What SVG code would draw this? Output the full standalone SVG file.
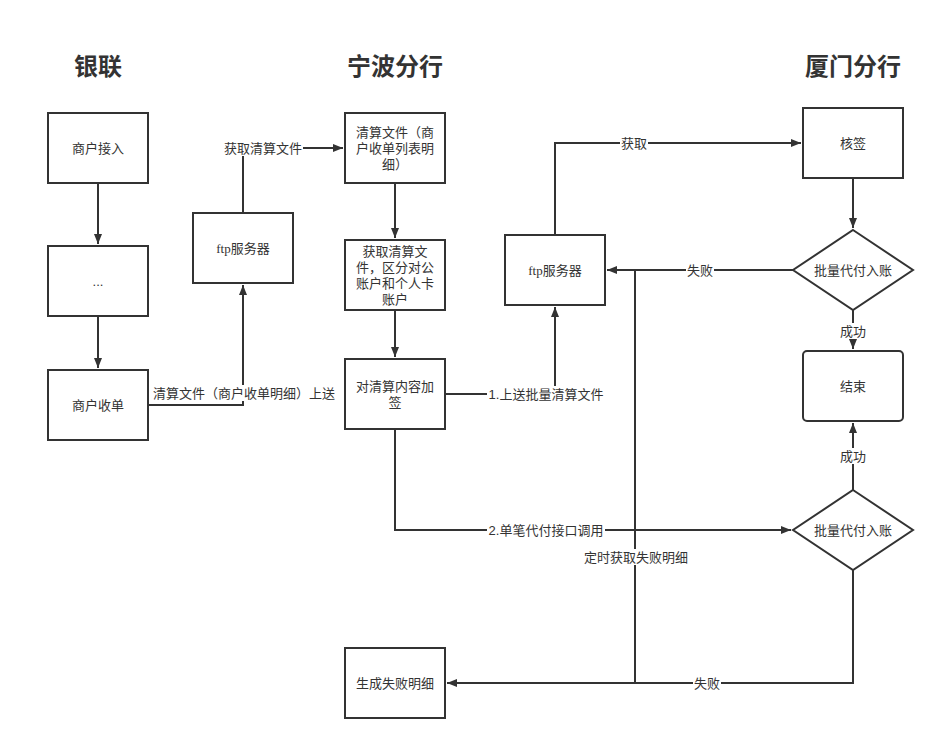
<svg xmlns="http://www.w3.org/2000/svg" width="945" height="750" viewBox="0 0 945 750">
<defs>
<marker id="arr" viewBox="0 0 10 8" refX="10" refY="4" markerWidth="10" markerHeight="8" markerUnits="userSpaceOnUse" orient="auto">
<path d="M0,0 L10,4 L0,8 Z" fill="#333"/>
</marker>
</defs>
<style>
.box{fill:#fff;stroke:#333;stroke-width:2}
.t{font-family:"Liberation Sans","Noto Sans CJK SC",sans-serif;font-size:13px;fill:#333;text-anchor:middle;dominant-baseline:central}
.serif{font-family:"Liberation Serif","Noto Sans CJK SC",serif}
.title{font-family:"Liberation Sans","Noto Sans CJK SC",sans-serif;font-size:24px;font-weight:bold;fill:#333;text-anchor:middle;dominant-baseline:central}
.ln{fill:none;stroke:#333;stroke-width:2}
.bg{fill:#fff}
</style>
<rect width="945" height="750" fill="#fff"/>

<g id="titles">
<text class="title" x="98" y="66">银联</text>
<text class="title" x="395" y="66">宁波分行</text>
<text class="title" x="853" y="66">厦门分行</text>
</g>

<g id="connectors">
<path class="ln" d="M98,183 V244" marker-end="url(#arr)"/>
<path class="ln" d="M98,316 V368" marker-end="url(#arr)"/>
<path class="ln" d="M148,405 H243 V285" marker-end="url(#arr)"/>
<path class="ln" d="M243,213 V148 H343" marker-end="url(#arr)"/>
<path class="ln" d="M395,183 V238" marker-end="url(#arr)"/>
<path class="ln" d="M395,310 V357" marker-end="url(#arr)"/>
<path class="ln" d="M445,394 H555 V307" marker-end="url(#arr)"/>
<path class="ln" d="M395,429 V530 H791" marker-end="url(#arr)"/>
<path class="ln" d="M555,235 V143 H801" marker-end="url(#arr)"/>
<path class="ln" d="M853,178 V228" marker-end="url(#arr)"/>
<path class="ln" d="M793,270 H607" marker-end="url(#arr)"/>
<path class="ln" d="M853,310 V349" marker-end="url(#arr)"/>
<path class="ln" d="M853,490 V423" marker-end="url(#arr)"/>
<path class="ln" d="M853,570 V683 H447" marker-end="url(#arr)"/>
<path class="ln" d="M635,683 V270"/>
<rect class="bg" x="223" y="140" width="80" height="16"/>
<text class="t" x="263" y="148">获取清算文件</text>
<rect class="bg" x="152" y="385" width="184" height="16"/>
<text class="t" x="244" y="393">清算文件（商户收单明细）上送</text>
<rect class="bg" x="487" y="386" width="118" height="16"/>
<text class="t" x="546" y="394">1.上送批量清算文件</text>
<rect class="bg" x="487" y="522" width="118" height="16"/>
<text class="t" x="546" y="530">2.单笔代付接口调用</text>
<rect class="bg" x="583" y="549" width="106" height="16"/>
<text class="t" x="636" y="557">定时获取失败明细</text>
<rect class="bg" x="620" y="135" width="28" height="16"/>
<text class="t" x="634" y="143">获取</text>
<rect class="bg" x="686" y="262" width="28" height="16"/>
<text class="t" x="700" y="270">失败</text>
<rect class="bg" x="693" y="675" width="28" height="16"/>
<text class="t" x="707" y="683">失败</text>
<rect class="bg" x="838" y="323" width="30" height="16"/>
<text class="t" x="853" y="331">成功</text>
<rect class="bg" x="838" y="448" width="30" height="16"/>
<text class="t" x="853" y="456">成功</text>
</g>

<g id="n-merchant-in">
<rect class="box" x="48" y="113" width="100" height="70"/>
<text class="t" x="98" y="148">商户接入</text>
</g>
<g id="n-dots">
<rect class="box" x="48" y="246" width="100" height="70"/>
<text class="t" x="98" y="281">...</text>
</g>
<g id="n-merchant-order">
<rect class="box" x="48" y="370" width="100" height="70"/>
<text class="t" x="98" y="405">商户收单</text>
</g>
<g id="n-ftp-left">
<rect class="box" x="193" y="213" width="100" height="70"/>
<text class="t serif" x="243" y="248">ftp服务器</text>
</g>
<g id="n-settle-file">
<rect class="box" x="345" y="113" width="100" height="70"/>
<text class="t" x="395" y="132">清算文件（商</text>
<text class="t" x="395" y="148">户收单列表明</text>
<text class="t" x="395" y="164">细）</text>
</g>
<g id="n-get-file">
<rect class="box" x="345" y="240" width="100" height="70"/>
<text class="t" x="395" y="251">获取清算文</text>
<text class="t" x="395" y="267">件，区分对公</text>
<text class="t" x="395" y="283">账户和个人卡</text>
<text class="t" x="395" y="299">账户</text>
</g>
<g id="n-sign">
<rect class="box" x="345" y="359" width="100" height="70"/>
<text class="t" x="395" y="386">对清算内容加</text>
<text class="t" x="395" y="402">签</text>
</g>
<g id="n-fail-detail">
<rect class="box" x="345" y="648" width="100" height="70"/>
<text class="t" x="395" y="683">生成失败明细</text>
</g>
<g id="n-ftp-right">
<rect class="box" x="505" y="235" width="100" height="70"/>
<text class="t serif" x="555" y="270">ftp服务器</text>
</g>
<g id="n-verify">
<rect class="box" x="803" y="108" width="100" height="70"/>
<text class="t" x="853" y="143">核签</text>
</g>
<g id="n-batch1">
<polygon class="box" points="853,230 913,270 853,310 793,270"/>
<text class="t" x="853" y="270">批量代付入账</text>
</g>
<g id="n-end">
<rect class="box" x="803" y="351" width="100" height="70" rx="4"/>
<text class="t" x="853" y="386">结束</text>
</g>
<g id="n-batch2">
<polygon class="box" points="853,490 913,530 853,570 793,530"/>
<text class="t" x="853" y="530">批量代付入账</text>
</g>
</svg>
